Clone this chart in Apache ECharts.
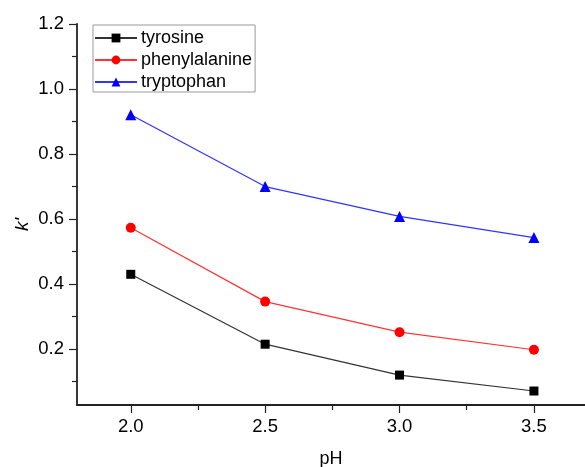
<!DOCTYPE html>
<html>
<head>
<meta charset="utf-8">
<script src="https://cdn.jsdelivr.net/npm/echarts@6/dist/echarts.min.js"></script>
<style>
  html, body { margin: 0; padding: 0; background: #fff; }
  #chart { width: 585px; height: 467px; }
</style>
</head>
<body>
<div id="chart"></div>
<script>
const phValues = [2.0, 2.5, 3.0, 3.5];
const tyrosine = [0.43, 0.215, 0.12, 0.071];
const phenylalanine = [0.573, 0.346, 0.252, 0.198];
const tryptophan = [0.921, 0.70, 0.608, 0.543];

const xMajorTicks = [2.0, 2.5, 3.0, 3.5];
const xMinorTicks = [2.25, 2.75, 3.25];
const yMajorTicks = [0.2, 0.4, 0.6, 0.8, 1.0, 1.2];
const yMinorTicks = [0.1, 0.3, 0.5, 0.7, 0.9, 1.1];

const font = "Liberation Sans, Arial, sans-serif";
const axisColor = "#222";

function pairs(ys) {
  return phValues.map((x, i) => [x, ys[i]]);
}

const xRange = { min: 1.8, max: 3.69 };
const yRange = { min: 0.028, max: 1.2 };

const chart = echarts.init(document.getElementById("chart"));
chart.setOption({
  animation: false,
  grid: { left: 77, top: 24, right: 0, bottom: 62, outerBoundsMode: "none", containLabel: false },
  legend: {
    left: 93,
    top: 25,
    orient: "vertical",
    itemWidth: 42,
    itemHeight: 11,
    itemGap: 4,
    padding: [4, 3, 1, 1],
    borderColor: "#999",
    borderWidth: 1,
    textStyle: { fontFamily: font, fontSize: 18, lineHeight: 18, color: "#000", padding: [0, 0, 0, -1] },
    data: ["tyrosine", "phenylalanine", "tryptophan"]
  },
  xAxis: [
    {
      type: "value",
      ...xRange,
      name: "pH",
      nameLocation: "middle",
      nameGap: 45,
      nameMoveOverlap: false,
      nameTextStyle: { fontFamily: font, fontSize: 18, color: "#000" },
      axisLine: { lineStyle: { color: axisColor, width: 1.8 } },
      axisTick: { customValues: xMajorTicks, length: 8, lineStyle: { color: axisColor, width: 1.2 } },
      axisLabel: {
        customValues: xMajorTicks,
        formatter: v => v.toFixed(1),
        fontFamily: font, fontSize: 18.5, color: "#000", margin: 12
      },
      splitLine: { show: false }
    },
    {
      type: "value",
      ...xRange,
      position: "bottom",
      axisLine: { show: false },
      axisTick: { customValues: xMinorTicks, length: 5, lineStyle: { color: axisColor, width: 1.2 } },
      axisLabel: { show: false },
      splitLine: { show: false }
    }
  ],
  yAxis: [
    {
      type: "value",
      ...yRange,
      name: "k'",
      nameLocation: "middle",
      nameGap: 45,
      nameMoveOverlap: false,
      nameTextStyle: { fontFamily: font, fontSize: 19, fontStyle: "italic", color: "#000", padding: [0, 20, 0, 0] },
      axisLine: { lineStyle: { color: axisColor, width: 1.8 } },
      axisTick: { customValues: yMajorTicks, length: 8, lineStyle: { color: axisColor, width: 1.2 } },
      axisLabel: {
        customValues: yMajorTicks,
        formatter: v => v.toFixed(1),
        fontFamily: font, fontSize: 18.5, color: "#000", margin: 13
      },
      splitLine: { show: false }
    },
    {
      type: "value",
      ...yRange,
      position: "left",
      axisLine: { show: false },
      axisTick: { customValues: yMinorTicks, length: 5, lineStyle: { color: axisColor, width: 1.2 } },
      axisLabel: { show: false },
      splitLine: { show: false }
    }
  ],
  series: [
    {
      name: "tyrosine",
      type: "line",
      data: pairs(tyrosine),
      symbol: "rect",
      symbolSize: 9,
      itemStyle: { color: "#000" },
      lineStyle: { color: "#333", width: 1.2 }
    },
    {
      name: "phenylalanine",
      type: "line",
      data: pairs(phenylalanine),
      symbol: "circle",
      symbolSize: 10,
      itemStyle: { color: "#ff0000" },
      lineStyle: { color: "#ff3333", width: 1.2 }
    },
    {
      name: "tryptophan",
      type: "line",
      data: pairs(tryptophan),
      symbol: "triangle",
      symbolSize: 11,
      itemStyle: { color: "#0000ff" },
      lineStyle: { color: "#3333ff", width: 1.2 }
    }
  ]
});
</script>
</body>
</html>
